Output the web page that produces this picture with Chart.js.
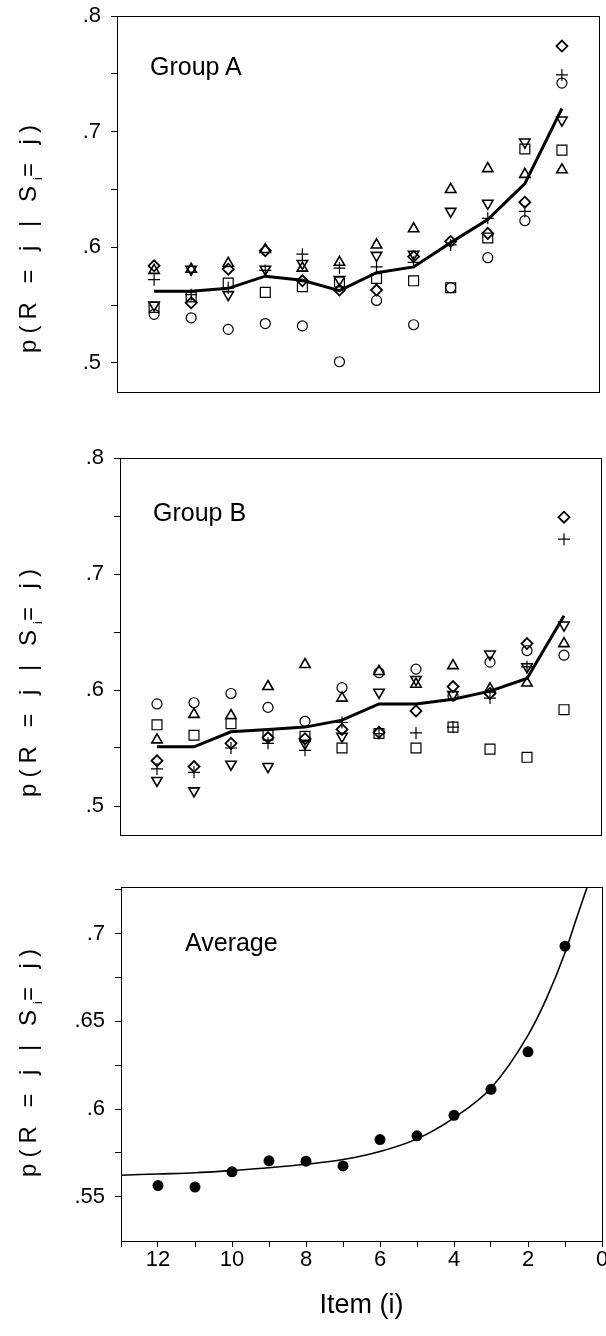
<!DOCTYPE html>
<html>
<head>
<meta charset="utf-8">
<script src="https://cdn.jsdelivr.net/npm/chart.js@4.4.0/dist/chart.umd.min.js"></script>
<style>
html,body{margin:0;padding:0;background:#fff;}
body{width:606px;height:1336px;position:relative;overflow:hidden;font-family:"Liberation Sans",Arial,sans-serif;color:#000;}
canvas{position:absolute;left:0;}
.ytitle{position:absolute;left:30px;transform:translate(-50%,-50%) rotate(-90deg);white-space:nowrap;font-size:24px;letter-spacing:6px;line-height:1;}
.ytitle sub{font-size:13px;letter-spacing:0;}
.glabel{position:absolute;font-size:25px;line-height:1;white-space:nowrap;}
</style>
</head>
<body>
<canvas id="chartA" width="620" height="400" style="top:0px"></canvas>
<canvas id="chartB" width="620" height="410" style="top:440px"></canvas>
<canvas id="chartC" width="620" height="466" style="top:870px"></canvas>

<div class="ytitle" style="top:236px">p(R = j | S<sub>i</sub>= j)</div>
<div class="ytitle" style="top:680px">p(R = j | S<sub>i</sub>= j)</div>
<div class="ytitle" style="top:1060px">p(R = j | S<sub>i</sub>= j)</div>

<div class="glabel" style="left:150px;top:54px">Group A</div>
<div class="glabel" style="left:153px;top:500px">Group B</div>
<div class="glabel" style="left:185px;top:930px">Average</div>

<script>
// Items (serial position), read right to left on the axis
const items = [12,11,10,9,8,7,6,5,4,3,2,1];

// Group A, one array per symbol
const aCircle   = [.542,.539,.529,.534,.532,.501,.554,.533,.565,.591,.623,.742];
const aSquare   = [.548,.557,.569,.561,.566,.570,.573,.571,.565,.608,.685,.684];
const aTriUp    = [.580,.581,.586,.598,.582,.587,.602,.616,.650,.668,.663,.667];
const aTriDown  = [.550,.581,.559,.581,.586,.572,.593,.594,.631,.638,.691,.710];
const aDiamond  = [.584,.552,.581,.597,.571,.563,.563,.592,.605,.612,.639,.774];
const aPlus     = [.572,.559,.565,.580,.594,.582,.583,.587,.602,.625,.631,.749];
const aMean     = [.562,.562,.5645,.575,.5715,.5625,.578,.583,.604,.624,.655,.720];

// Group B
const bCircle   = [.588,.589,.597,.585,.573,.602,.615,.618,.595,.624,.634,.630];
const bSquare   = [.570,.561,.571,.561,.560,.550,.5625,.550,.568,.549,.542,.583];
const bTriUp    = [.557,.579,.578,.603,.622,.593,.616,.605,.621,.601,.606,.640];
const bTriDown  = [.522,.513,.536,.534,.554,.560,.598,.609,.596,.631,.620,.656];
const bDiamond  = [.539,.534,.554,.559,.558,.566,.5635,.582,.603,.597,.640,.749];
const bPlus     = [.532,.529,.550,.554,.548,.572,.5625,.563,.568,.593,.620,.730];
const bMean     = [.551,.551,.564,.566,.568,.574,.588,.588,.592,.599,.610,.664];

// Average panel
const avgPoints = [.5564,.5555,.5642,.5705,.5703,.5676,.5826,.5847,.5964,.6112,.6326,.6928];
const curveX = [13,12,11,10,9,8,7,6,5,4,3,2,1.5,1,0.7,0.4];
const curveY = [.5623,.5630,.5637,.5650,.5665,.5685,.5712,.5758,.5830,.5950,.6120,.6420,.6630,.6890,.7080,.7265];

// Tick lists
const yTicksAB  = [.5,.55,.6,.65,.7,.75,.8];
const yLabelsAB = ['.5','','.6','','.7','','.8'];
const yTicksC   = [.55,.575,.6,.625,.65,.675,.7,.725];
const yLabelsC  = ['.55','','.6','','.65','','.7',''];
const xTicksC   = [13,12,11,10,9,8,7,6,5,4,3,2,1,0];
const xLabelsC  = ['','12','','10','','8','','6','','4','','2','','0'];

const FONT = '"Liberation Sans", Arial, sans-serif';

function pts(ys){ return items.map((x,i)=>({x, y: ys[i]})); }

function marker(ys, style, r, rot, lw){
  return {
    data: pts(ys), showLine:false,
    pointStyle: style, pointRadius: r, pointHoverRadius: r, pointRotation: rot,
    pointBorderColor:'#000', pointBackgroundColor:'rgba(0,0,0,0)', pointBorderWidth: lw
  };
}

function meanLine(ys){
  return {data: pts(ys), showLine:true, borderColor:'#000', borderWidth:3, pointRadius:0, tension:0};
}

const frame = {
  id:'frame',
  beforeDatasetsDraw(chart){
    const {ctx, chartArea:a} = chart;
    ctx.save();
    ctx.strokeStyle = '#000';
    ctx.lineWidth = 1;
    ctx.strokeRect(Math.round(a.left)+.5, Math.round(a.top)+.5, Math.round(a.right-a.left), Math.round(a.bottom-a.top));
    ctx.restore();
  }
};

function yAxis(min, max, ticks, labels, width){
  return {
    type:'linear', min, max,
    afterBuildTicks: s => { s.ticks = ticks.map(v=>({value:v})); },
    afterFit: s => { s.width = width; s.paddingTop = 0; s.paddingBottom = 0; },
    border:{display:false},
    grid:{drawOnChartArea:false, drawTicks:true, tickLength:6, color:'#000', lineWidth:1},
    ticks:{color:'#000', font:{family:FONT, size:22}, padding:10, autoSkip:false,
           callback:(v,i)=>labels[i]}
  };
}

function baseOptions(pad){
  return {
    responsive:false, animation:false, events:[],
    layout:{padding:pad},
    plugins:{legend:{display:false}, tooltip:{enabled:false}}
  };
}

function groupChart(id, sets, pad, left){
  const opts = baseOptions(pad);
  opts.scales = {
    x:{type:'linear', min:0, max:13, reverse:true, display:false},
    y:yAxis(.475, .8, yTicksAB, yLabelsAB, left)
  };
  return new Chart(document.getElementById(id), {
    type:'scatter',
    data:{datasets:[
      meanLine(sets.mean),
      marker(sets.circle,  'circle',   5,   0,   1.2),
      marker(sets.square,  'rect',     7,   0,   1.2),
      marker(sets.triUp,   'triangle', 6,   0,   1.6),
      marker(sets.triDown, 'triangle', 6,   180, 1.6),
      marker(sets.diamond, 'rectRot',  5.5, 0,   1.8),
      marker(sets.plus,    'cross',    6,   0,   1.2)
    ]},
    options:opts,
    plugins:[frame]
  });
}

groupChart('chartA',
  {mean:aMean, circle:aCircle, square:aSquare, triUp:aTriUp, triDown:aTriDown, diamond:aDiamond, plus:aPlus},
  {top:16, right:21, bottom:8, left:0}, 117);

groupChart('chartB',
  {mean:bMean, circle:bCircle, square:bSquare, triUp:bTriUp, triDown:bTriDown, diamond:bDiamond, plus:bPlus},
  {top:18, right:19, bottom:15, left:0}, 120);

// Average panel
const optsC = baseOptions({top:17, right:18, bottom:0, left:0});
optsC.scales = {
  x:{
    type:'linear', min:0, max:13, reverse:true,
    afterBuildTicks: s => { s.ticks = xTicksC.map(v=>({value:v})); },
    afterFit: s => { s.height = 95; s.paddingLeft = 0; s.paddingRight = 0; },
    border:{display:false},
    grid:{drawOnChartArea:false, drawTicks:true, tickLength:6, color:'#000', lineWidth:1},
    ticks:{color:'#000', font:{family:FONT, size:22}, padding:0, autoSkip:false, maxRotation:0,
           callback:(v,i)=>xLabelsC[i]},
    title:{display:true, text:'Item (i)', color:'#000', font:{family:FONT, size:27}, padding:{top:0, bottom:14}}
  },
  y:yAxis(.5248, .7265, yTicksC, yLabelsC, 121)
};
new Chart(document.getElementById('chartC'), {
  type:'scatter',
  data:{datasets:[
    {data:pts(avgPoints), showLine:false, pointStyle:'circle', pointRadius:5.5, pointHoverRadius:5.5,
     pointBackgroundColor:'#000', pointBorderColor:'#000', pointBorderWidth:0},
    {data:curveX.map((x,i)=>({x, y:curveY[i]})), showLine:true, borderColor:'#000', borderWidth:1.6,
     pointRadius:0, cubicInterpolationMode:'monotone'}
  ]},
  options:optsC,
  plugins:[frame]
});
</script>
</body>
</html>
